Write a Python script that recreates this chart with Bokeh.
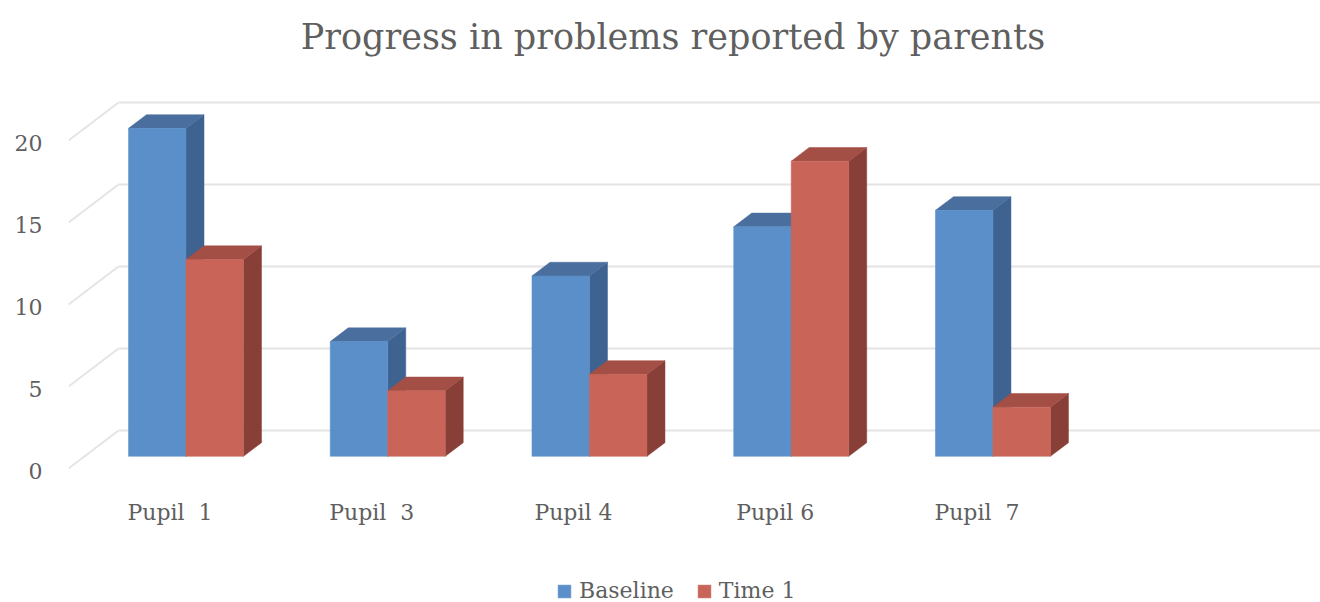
from bokeh.embed import file_html
from bokeh.models import FixedTicker, Label, Legend, LegendItem, LinearAxis, Range1d
from bokeh.plotting import figure
from bokeh.resources import INLINE

pupils = ["Pupil\u00a0 1", "Pupil\u00a0 3", "Pupil 4", "Pupil 6", "Pupil\u00a0 7"]
baseline = [20, 7, 11, 14, 15]
time_1 = [12, 4, 5, 18, 3]
value_ticks = [0, 5, 10, 15, 20]
chart_title = "Progress in problems reported by parents"

TEXT = "#5f5f5f"
SERIF = "DejaVu Serif"
GRID = "#e4e4e4"
BASELINE_FACES = ("#5b8fc9", "#4a6f9e", "#3f6390")
TIME_FACES = ("#c96459", "#a34f45", "#883f37")

# Oblique projection of the depth axis, in category and value units
DEPTH_X = 0.248
DEPTH_Y = 2.32
BAR_NEAR, BAR_FAR = 0.32, 0.68
BAR_WIDTH = 0.285


def project(x, v, d):
    return x + d * DEPTH_X, v + d * DEPTH_Y


def faces(values, left_edge):
    front, top, side = ([], []), ([], []), ([], [])
    for i, v in enumerate(values):
        x0, x1 = i + left_edge, i + left_edge + BAR_WIDTH
        nl, nb = project(x0, 0, BAR_NEAR)
        nr, nt = project(x1, v, BAR_NEAR)
        fl, _ = project(x0, v, BAR_FAR)
        fr, ft = project(x1, v, BAR_FAR)
        _, fb = project(x1, 0, BAR_FAR)
        front[0].append([nl, nr, nr, nl]); front[1].append([nb, nb, nt, nt])
        top[0].append([nl, nr, fr, fl]); top[1].append([nt, nt, ft, ft])
        side[0].append([nr, fr, fr, nr]); side[1].append([nb, fb, ft, nt])
    return front, top, side


# The value range extends past the data so the frame also holds the title, category labels and legend
p = figure(
    width=1320, height=602, output_backend="svg", toolbar_location=None,
    x_range=Range1d(-0.503, 5.703), y_range=Range1d(-8.17, 28.54),
    x_axis_type=None, y_axis_type=None,
    min_border_left=68, min_border_right=0, min_border_top=0, min_border_bottom=0,
    outline_line_color=None, background_fill_color="white", border_fill_color="white",
)
p.grid.visible = False
# The value labels sit slightly under the ends of their gridlines
p.extra_y_ranges = {"labels": Range1d(-8.02, 28.69)}

# Side wall and back wall gridlines
for v in value_ticks:
    x_back, y_back = project(p.x_range.start, v, 1)
    p.line([p.x_range.start, x_back], [v, y_back], line_color=GRID, line_width=2)
    p.line([x_back, p.x_range.end], [y_back, y_back], line_color=GRID, line_width=2)

legend_items = []
for name, values, left_edge, colors in (
    ("Baseline", baseline, -BAR_WIDTH, BASELINE_FACES),
    ("Time 1", time_1, 0.0, TIME_FACES),
):
    front, top, side = faces(values, left_edge)
    p.patches(side[0], side[1], fill_color=colors[2], line_color=colors[2], line_width=0.5)
    p.patches(top[0], top[1], fill_color=colors[1], line_color=colors[1], line_width=0.5)
    r = p.patches(front[0], front[1], fill_color=colors[0], line_color=colors[0], line_width=0.5)
    legend_items.append(LegendItem(label=name, renderers=[r]))

y_axis = LinearAxis(
    y_range_name="labels",
    ticker=FixedTicker(ticks=value_ticks), axis_line_color=None,
    major_tick_line_color=None, minor_tick_line_color=None,
    major_label_standoff=20, major_label_text_color=TEXT,
    major_label_text_font=SERIF, major_label_text_font_size="22px",
)
p.add_layout(y_axis, "left")

x_axis = LinearAxis(
    fixed_location=0,
    ticker=FixedTicker(ticks=list(range(len(pupils)))),
    major_label_overrides={i: s for i, s in enumerate(pupils)},
    axis_line_color=None, major_tick_line_color=None, minor_tick_line_color=None,
    major_label_standoff=25, major_label_text_color=TEXT,
    major_label_text_font=SERIF, major_label_text_font_size="22px",
)
p.add_layout(x_axis, "below")

legend = Legend(
    items=legend_items, orientation="horizontal", location=(488, -1),
    background_fill_alpha=0, border_line_color=None, glyph_width=16, glyph_height=16,
    label_text_color=TEXT, label_text_font=SERIF, label_text_font_size="22px",
    label_standoff=7, spacing=22, margin=0, padding=0,
)
p.add_layout(legend, "center")

p.add_layout(Label(x=2.493, y=26.3, text=chart_title, text_align="center", text_baseline="middle",
                   text_color=TEXT, text_font=SERIF, text_font_size="35px"))

open("out.html", "w").write(file_html(p, INLINE))
